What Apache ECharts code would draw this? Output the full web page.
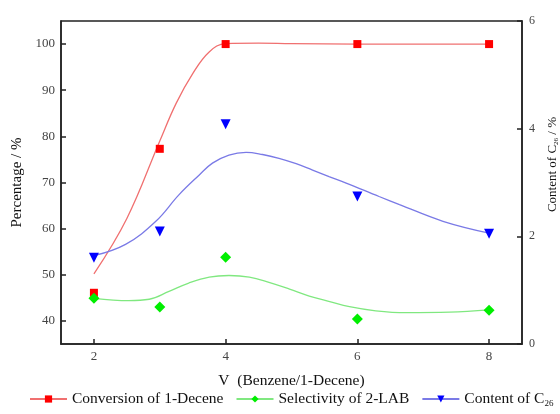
<!DOCTYPE html>
<html>
<head>
<meta charset="utf-8">
<script src="https://cdn.jsdelivr.net/npm/echarts@6/dist/echarts.min.js"></script>
<style>
  html, body { margin: 0; padding: 0; background: #fff; }
  #main { width: 560px; height: 414px; }
</style>
</head>
<body>
<div id="main"></div>
<script>
// measured points
var ratio = [2, 3, 4, 6, 8];
var conversion = [46.1, 77.3, 100, 100, 100];
var selectivity = [44.9, 43.0, 53.8, 40.4, 42.3];
var c26 = [1.60, 2.09, 4.08, 2.74, 2.05];

// fitted curves [x, y]
var conversionFit = [[2, 50.2], [2.5, 62.2], [3, 79], [3.25, 87.2], [3.5, 93.6], [3.75, 98.3], [4, 100.1], [4.5, 100.2], [5, 100.1], [6, 100], [7, 100], [8, 100]];
var selectivityFit = [[2, 44.9], [2.53, 44.4], [2.84, 44.7], [3.14, 46.4], [3.44, 48.2], [3.75, 49.5], [4.05, 49.85], [4.36, 49.5], [4.67, 48.3], [4.97, 46.9], [5.27, 45.4], [5.58, 44.2], [5.88, 43.1], [6.28, 42.2], [6.74, 41.8], [7.4, 41.9], [8, 42.4]];
var c26Fit = [[2, 1.64], [2.48, 1.85], [2.94, 2.28], [3.29, 2.77], [3.6, 3.14], [3.8, 3.36], [4.05, 3.51], [4.31, 3.56], [4.56, 3.52], [4.81, 3.45], [5.07, 3.35], [5.32, 3.23], [5.57, 3.11], [5.83, 2.99], [6.33, 2.74], [6.64, 2.59], [7.3, 2.28], [8, 2.06]];

var xTicks = [2, 4, 6, 8];
var leftTicks = [40, 50, 60, 70, 80, 90, 100];
var legendNames = ['Conversion of 1-Decene', 'Selectivity of 2-LAB', 'Content of C26'];

function pairs(xs, ys) {
    return xs.map(function (x, i) { return [x, ys[i]]; });
}

var font = 'Liberation Serif';
var axisColor = '#222';

var myChart = echarts.init(document.getElementById('main'));
var option = {
    backgroundColor: '#fff',
    textStyle: { fontFamily: font },
    grid: {
        left: 61, right: 38, top: 21, bottom: 70,
        outerBoundsMode: 'none',
        containLabel: false,
        show: true, borderColor: axisColor, borderWidth: 1.5
    },
    legend: {
        data: legendNames,
        bottom: 1,
        left: 24,
        itemWidth: 37,
        itemHeight: 9,
        itemGap: 12,
        textStyle: {
            fontFamily: font, fontSize: 15.5, color: '#111',
            rich: {
                a: { fontFamily: font, fontSize: 15.5, color: '#111' },
                s: { fontFamily: font, fontSize: 9, color: '#111', padding: [9, 0, 0, 0] }
            }
        },
        formatter: function (name) {
            if (name === 'Content of C26') return '{a|Content of C}{s|26}';
            return '{a|' + name + '}';
        }
    },
    xAxis: {
        type: 'value',
        min: 1.5, max: 8.5,
        name: 'V  (Benzene/1-Decene)',
        nameLocation: 'middle',
        nameGap: 29,
        nameTextStyle: { fontFamily: font, fontSize: 15.5, color: '#111' },
        axisLine: { lineStyle: { color: axisColor, width: 1.5 } },
        axisTick: { inside: true, length: 5, customValues: xTicks, lineStyle: { color: axisColor, width: 1.5 } },
        axisLabel: { customValues: xTicks, margin: 6, fontSize: 13, color: '#444', fontFamily: font },
        splitLine: { show: false }
    },
    yAxis: [{
        type: 'value',
        min: 35, max: 105,
        name: 'Percentage / %',
        nameLocation: 'middle',
        nameGap: 36,
        nameRotate: 90,
        nameTextStyle: { fontFamily: font, fontSize: 15, color: '#111' },
        axisLine: { show: true, lineStyle: { color: axisColor, width: 1.5 } },
        axisTick: { inside: true, length: 5, customValues: leftTicks, lineStyle: { color: axisColor, width: 1.5 } },
        axisLabel: { customValues: leftTicks, margin: 6, fontSize: 13, color: '#444', fontFamily: font },
        splitLine: { show: false }
    }, {
        type: 'value',
        position: 'right',
        min: 0, max: 6, interval: 2,
        name: '{a|Content of C}{s|26}{a| / %}',
        nameLocation: 'middle',
        nameGap: 22,
        nameRotate: 90,
        nameTextStyle: {
            fontFamily: font, fontSize: 13, color: '#111',
            padding: [0, 0, 0, 36],
            rich: {
                a: { fontFamily: font, fontSize: 13, color: '#111' },
                s: { fontFamily: font, fontSize: 7, color: '#111', padding: [7, 0, 0, 0] }
            }
        },
        axisLine: { show: true, lineStyle: { color: axisColor, width: 1.5 } },
        axisTick: { inside: true, length: 5, lineStyle: { color: axisColor, width: 1.5 } },
        axisLabel: { margin: 7, fontSize: 12, color: '#444', fontFamily: font },
        splitLine: { show: false }
    }],
    series: [
        // fitted curves (these carry the legend entries)
        {
            name: legendNames[0], type: 'line', smooth: 0.4,
            data: conversionFit, showSymbol: false, symbol: 'rect', symbolSize: 9,
            itemStyle: { color: '#ff0000' },
            lineStyle: { color: '#f07070', width: 1.3 }, z: 2
        },
        {
            name: legendNames[1], type: 'line', smooth: 0.4,
            data: selectivityFit, showSymbol: false, symbol: 'diamond', symbolSize: 11,
            itemStyle: { color: '#00ee00' },
            lineStyle: { color: '#80e880', width: 1.3 }, z: 2
        },
        {
            name: legendNames[2], type: 'line', yAxisIndex: 1, smooth: 0.4,
            data: c26Fit, showSymbol: false, symbol: 'triangle', symbolRotate: 180, symbolSize: 10,
            itemStyle: { color: '#0000ff' },
            lineStyle: { color: '#7a7ae6', width: 1.3 }, z: 2
        },
        // measured points
        {
            name: 'conv-pts', type: 'scatter', data: pairs(ratio, conversion),
            symbol: 'rect', symbolSize: 8, itemStyle: { color: '#ff0000', opacity: 1 }, z: 3
        },
        {
            name: 'sel-pts', type: 'scatter', data: pairs(ratio, selectivity),
            symbol: 'diamond', symbolSize: 11, itemStyle: { color: '#00ee00', opacity: 1 }, z: 3
        },
        {
            name: 'c26-pts', type: 'scatter', yAxisIndex: 1, data: pairs(ratio, c26),
            symbol: 'triangle', symbolRotate: 180, symbolSize: 10, itemStyle: { color: '#0000ff', opacity: 1 }, z: 3
        }
    ]
};
myChart.setOption(option);
</script>
</body>
</html>
